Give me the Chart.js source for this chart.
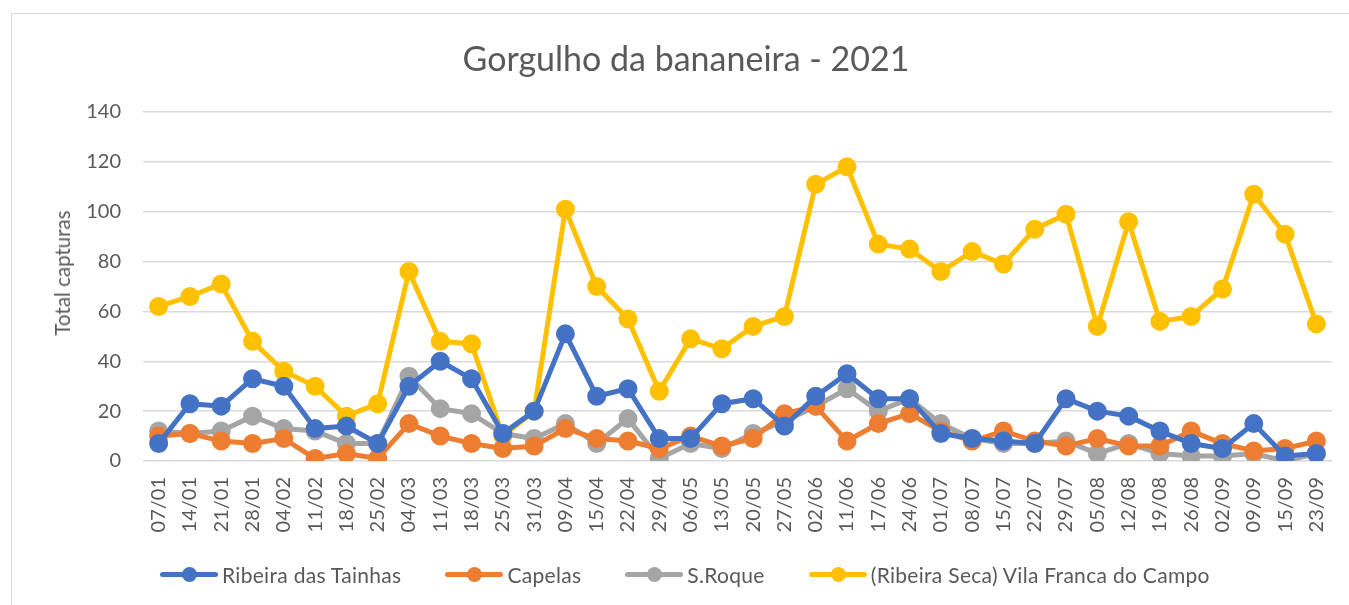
<!DOCTYPE html>
<html>
<head>
<meta charset="utf-8">
<script src="https://cdn.jsdelivr.net/npm/chart.js@4.4.0/dist/chart.umd.min.js"></script>
<style>
  html,body{margin:0;padding:0;background:#fff;}
  #wrap{position:relative;width:1349px;height:605px;overflow:hidden;font-family:Lato,"Open Sans",sans-serif;color:#595959;}
  #frame{position:absolute;left:11px;top:13px;width:1400px;height:700px;border:1px solid #d9d9d9;box-sizing:border-box;}
  #c{position:absolute;left:0;top:0;}
  #titulo{position:absolute;left:0;top:38px;width:1372px;line-height:40px;text-align:center;font-size:34px;}
  #ytitulo{position:absolute;left:62px;top:273px;transform:translate(-50%,-50%) rotate(-90deg);font-size:20.5px;white-space:nowrap;}
  #legend{position:absolute;left:160px;top:562px;display:flex;align-items:center;font-size:21px;letter-spacing:0.3px;}
  .item{display:flex;align-items:center;margin-right:44px;}
  .sw{position:relative;width:58px;height:24px;margin-right:4px;}
  .sw .ln{position:absolute;left:0;right:0;top:9px;height:5px;border-radius:3px;}
  .sw .dt{position:absolute;left:22px;top:4px;width:15px;height:15px;border-radius:50%;}
</style>
</head>
<body>
<div id="wrap">
  <div id="frame"></div>
  <canvas id="c" width="1349" height="605"></canvas>
  <div id="titulo">Gorgulho da bananeira - 2021</div>
  <div id="ytitulo">Total capturas</div>
  <div id="legend"></div>
</div>
<script>
// ─── DADOS ───
const semanas = ['07/01','14/01','21/01','28/01','04/02','11/02','18/02','25/02','04/03','11/03','18/03','25/03','31/03','09/04','15/04','22/04','29/04','06/05','13/05','20/05','27/05','02/06','11/06','17/06','24/06','01/07','08/07','15/07','22/07','29/07','05/08','12/08','19/08','26/08','02/09','09/09','15/09','23/09'];
const ribeiraTainhas = [7,23,22,33,30,13,14,7,30,40,33,11,20,51,26,29,9,9,23,25,14,26,35,25,25,11,9,8,7,25,20,18,12,7,5,15,2,3];
const capelas = [10,11,8,7,9,1,3,1,15,10,7,5,6,13,9,8,5,10,6,9,19,22,8,15,19,12,8,12,8,6,9,6,6,12,7,4,5,8];
const sRoque = [12,11,12,18,13,12,7,7,34,21,19,11,9,15,7,17,1,7,5,11,16,22,29,20,25,15,9,7,7,8,3,7,3,2,2,3,0,3];
const vilaFranca = [62,66,71,48,36,30,18,23,76,48,47,10,20,101,70,57,28,49,45,54,58,111,118,87,85,76,84,79,93,99,54,96,56,58,69,107,91,55];
const yTicks = [0,20,40,60,80,100,120,140];

const series = [
  {label:'Ribeira das Tainhas', data:ribeiraTainhas, color:'#4472C4'},
  {label:'Capelas', data:capelas, color:'#ED7D31'},
  {label:'S.Roque', data:sRoque, color:'#A5A5A5'},
  {label:'(Ribeira Seca) Vila Franca do Campo', data:vilaFranca, color:'#FFC000'}
];

const FONT = 'Lato, "Open Sans", sans-serif';
const TXT = '#595959';

const chart = new Chart(document.getElementById('c').getContext('2d'), {
  type:'line',
  data:{
    labels:semanas,
    datasets:series.map(s=>({
      label:s.label, data:s.data,
      borderColor:s.color, backgroundColor:s.color,
      pointBackgroundColor:s.color, pointBorderColor:s.color,
      pointRadius:7, pointHoverRadius:7, borderWidth:5, tension:0
    }))
  },
  options:{
    responsive:false, animation:false,
    layout:{padding:{left:0,right:17,top:112,bottom:55}},
    plugins:{
      legend:{display:false},
      tooltip:{enabled:false},
      title:{display:false}
    },
    scales:{
      x:{
        offset:true,
        grid:{display:false, drawTicks:false},
        border:{display:false},
        ticks:{color:TXT, font:{family:FONT,size:20}, minRotation:90, maxRotation:90, padding:16, autoSkip:false},
        afterFit:s=>{ s.height = 89; s.paddingRight = 0; s.paddingLeft = 0; }
      },
      y:{
        min:0, max:140,
        afterBuildTicks:s=>{ s.ticks = yTicks.map(v=>({value:v})); },
        grid:{color:'#d9d9d9', lineWidth:1.5, drawTicks:false},
        border:{display:false},
        ticks:{color:TXT, font:{family:FONT,size:20}, padding:22},
        afterFit:s=>{ s.width = 143; }
      }
    }
  }
});

// legenda à maneira do Excel: linha + marcador
document.getElementById('legend').innerHTML = series.map(s=>
  `<div class="item"><div class="sw"><div class="ln" style="background:${s.color}"></div><div class="dt" style="background:${s.color}"></div></div><span>${s.label}</span></div>`
).join('');
</script>
</body>
</html>
